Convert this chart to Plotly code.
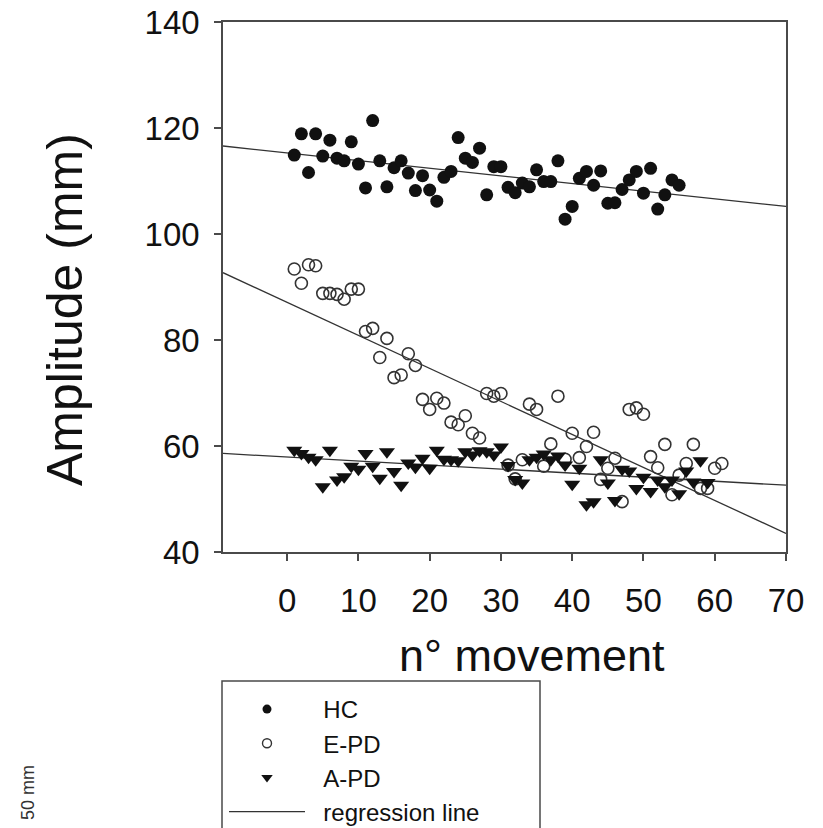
import plotly.graph_objects as go

# ---------------- data ----------------
hc_x = list(range(1, 56))
hc_y = [114.9, 118.9, 111.6, 118.9, 114.7, 117.7, 114.3, 113.8, 117.4, 113.2,
        108.7, 121.4, 113.8, 108.9, 112.5, 113.8, 111.5, 108.2, 111.0, 108.3,
        106.2, 110.7, 111.8, 118.2, 114.3, 113.5, 116.2, 107.4, 112.7, 112.7,
        108.8, 107.8, 109.6, 108.9, 112.1, 109.9, 109.9, 113.8, 102.8, 105.2,
        110.5, 111.8, 109.2, 111.9, 105.8, 105.9, 108.4, 110.2, 111.8, 107.7,
        112.4, 104.7, 107.4, 110.2, 109.2]

epd_x = list(range(1, 62))
epd_y = [93.4, 90.7, 94.2, 94.0, 88.8, 88.8, 88.6, 87.7, 89.6, 89.6,
         81.6, 82.2, 76.7, 80.3, 72.9, 73.4, 77.4, 75.2, 68.8, 66.9,
         69.0, 68.1, 64.5, 64.0, 65.7, 62.4, 61.5, 69.9, 69.4, 69.9,
         56.4, 53.8, 57.4, 67.9, 66.9, 56.2, 60.4, 69.4, 57.5, 62.4,
         57.8, 59.9, 62.6, 53.7, 55.8, 57.7, 49.5, 66.9, 67.2, 66.0,
         58.0, 55.9, 60.3, 50.8, 54.5, 56.7, 60.3, 52.0, 52.0, 55.8,
         56.7]

apd_x = list(range(1, 60))
apd_y = [59.2, 58.6, 57.9, 57.4, 52.3, 59.2, 53.6, 54.2, 56.2, 55.6,
         58.6, 56.2, 53.9, 58.9, 55.2, 52.6, 56.8, 56.0, 57.7, 55.8,
         59.2, 57.5, 57.4, 57.2, 58.9, 58.3, 59.1, 58.9, 58.3, 59.8,
         56.3, 53.7, 53.0, 57.4, 57.9, 58.5, 57.4, 58.1, 56.4, 52.8,
         55.8, 48.9, 49.5, 57.4, 53.0, 49.7, 55.6, 55.3, 52.0, 54.1,
         51.4, 53.6, 52.3, 53.6, 51.0, 55.3, 53.2, 57.2, 53.1]

reg_x = [-9, 70]
hc_reg = [116.6, 105.2]
epd_reg = [92.7, 43.5]
apd_reg = [58.6, 52.6]

x_ticks = [0, 10, 20, 30, 40, 50, 60, 70]
y_ticks = [40, 60, 80, 100, 120, 140]

legend_names = ["HC", "E-PD", "A-PD", "regression line"]

# ---------------- figure ----------------
FONT = "Liberation Sans, Arial, sans-serif"
INK = "#111111"
AX = "#4a4a4a"
LINE = "#333333"
NB = "\u00a0\u00a0"

fig = go.Figure()

for ry in (hc_reg, epd_reg, apd_reg):
    fig.add_trace(go.Scatter(x=reg_x, y=ry, mode="lines",
                             line=dict(color=LINE, width=1.3),
                             showlegend=False, hoverinfo="skip"))

fig.add_trace(go.Scatter(x=hc_x, y=hc_y, mode="markers", showlegend=False,
                         marker=dict(symbol="circle", size=13, color=INK,
                                     line=dict(width=0))))
fig.add_trace(go.Scatter(x=epd_x, y=epd_y, mode="markers", showlegend=False,
                         marker=dict(symbol="circle-open", size=12, color="#333333",
                                     line=dict(width=1.6, color="#333333"))))
fig.add_trace(go.Scatter(x=apd_x, y=apd_y, mode="markers", showlegend=False,
                         marker=dict(symbol="triangle-down", size=14, color=INK,
                                     line=dict(width=0))))

# legend entries
fig.add_trace(go.Scatter(x=[None], y=[None], mode="markers", name=NB + legend_names[0],
                         marker=dict(symbol="circle", size=9, color=INK)))
fig.add_trace(go.Scatter(x=[None], y=[None], mode="markers", name=NB + legend_names[1],
                         marker=dict(symbol="circle-open", size=9, color="#333333",
                                     line=dict(width=1.4, color="#333333"))))
fig.add_trace(go.Scatter(x=[None], y=[None], mode="markers", name=NB + legend_names[2],
                         marker=dict(symbol="triangle-down", size=10, color=INK)))
fig.add_trace(go.Scatter(x=[None], y=[None], mode="lines", name=NB + legend_names[3],
                         line=dict(color=LINE, width=1.3)))

# the page body margin is removed below, so figure pixels = window pixels
W, H = 823, 828
L, T = 223, 22
R = W - 786
B = H - 552
pw, ph = W - L - R, H - T - B


def px(xp):
    return (xp - L) / pw


def py(yp):
    return (H - B - yp) / ph


axis_common = dict(showgrid=False, zeroline=False, showline=True, mirror=True,
                   linecolor=AX, linewidth=1.5, ticks="outside", ticklen=7,
                   tickwidth=1.5, tickcolor=AX, automargin=False,
                   ticklabeloverflow="allow",
                   tickfont=dict(family=FONT, size=33, color=INK))

fig.update_xaxes(range=[-9, 70], tickvals=x_ticks, ticklabelstandoff=12, **axis_common)
fig.update_yaxes(range=[40, 140], tickvals=y_ticks, ticklabelstandoff=8, **axis_common)

fig.update_layout(
    template="none",
    width=W, height=H,
    margin=dict(l=L, r=R, t=T, b=B, pad=0, autoexpand=False),
    paper_bgcolor="white", plot_bgcolor="white",
    font=dict(family=FONT, color=INK),
    showlegend=True,
    hovermode=False,
    legend=dict(x=px(224), y=py(687), xanchor="left", yanchor="top",
                font=dict(family=FONT, size=24, color=INK),
                itemwidth=76, tracegroupgap=0, bgcolor="rgba(0,0,0,0)",
                borderwidth=0),
    annotations=[
        dict(text="n° movement", x=px(532), y=py(655), xref="paper", yref="paper",
             showarrow=False, font=dict(family=FONT, size=45, color=INK),
             xanchor="center", yanchor="middle"),
        dict(text="Amplitude (mm)", x=px(65), y=py(310), xref="paper", yref="paper",
             showarrow=False, textangle=-90, font=dict(family=FONT, size=50, color=INK),
             xanchor="center", yanchor="middle"),
        dict(text="50 mm", x=px(28), y=py(793), xref="paper", yref="paper",
             showarrow=False, textangle=-90, font=dict(family=FONT, size=18, color="#333333"),
             xanchor="center", yanchor="middle"),
    ],
    shapes=[
        dict(type="rect", xref="paper", yref="paper",
             x0=px(222), x1=px(540), y0=py(681), y1=py(860),
             line=dict(color=AX, width=1.5), fillcolor="rgba(0,0,0,0)"),
    ],
)

fig.write_html("out.html",
               config={"displayModeBar": False},
               post_script="document.body.style.margin='0';"
                           "document.body.style.overflow='hidden';")
